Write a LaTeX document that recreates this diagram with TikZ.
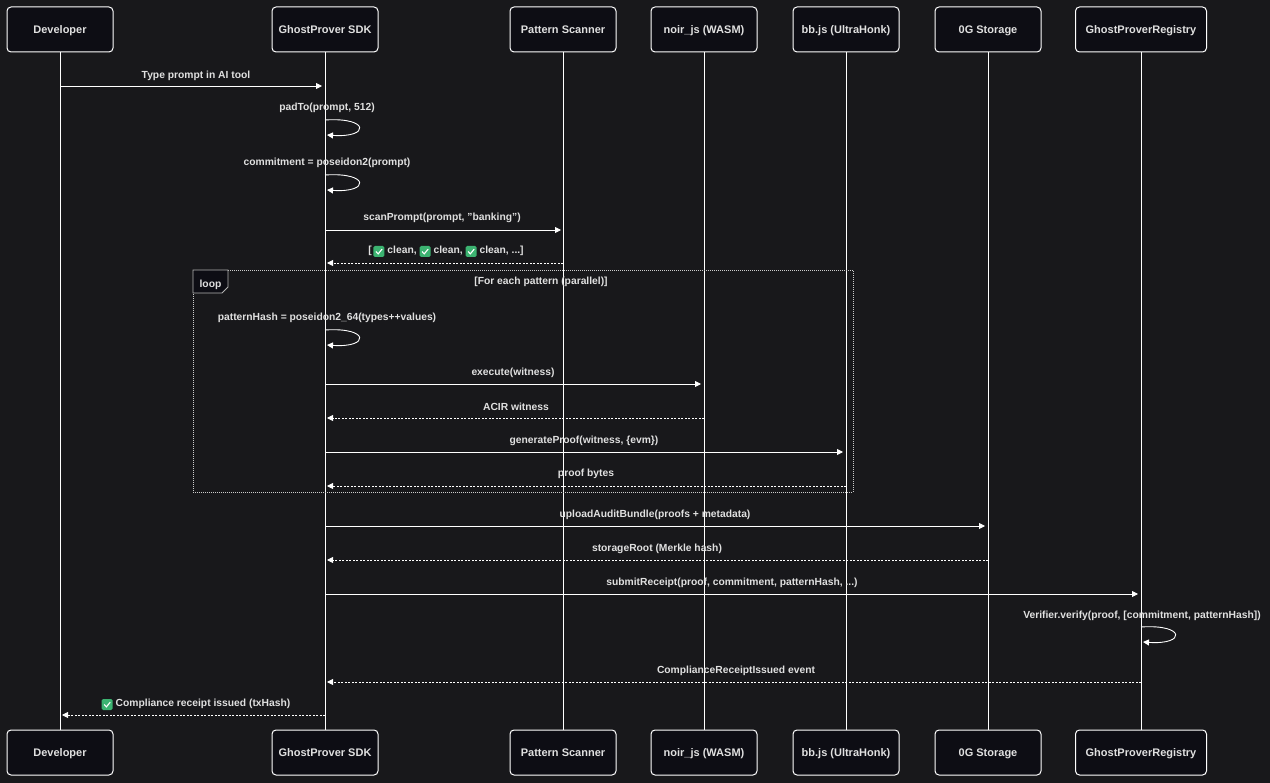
\documentclass[tikz,border=0pt]{standalone}
\usepackage{fontspec}
\setmainfont{Liberation Sans}
\usetikzlibrary{arrows.meta}
\definecolor{bg}{HTML}{18181B}
\definecolor{boxf}{HTML}{0D0D14}
\definecolor{txt}{HTML}{E0E0E0}
\definecolor{chkg}{HTML}{3CB371}
\newcommand{\chk}{\tikz[baseline=-1pt,x=1pt,y=1pt]{\fill[chkg,rounded corners=1.5pt](0,-4.5) rectangle (11,6.5);\draw[white,line width=1.1pt](2.5,1)--(4.7,-1.4)--(8.6,3.4);}\hspace{3pt}}
\tikzset{
 actor/.style={draw=white,line width=1pt,fill=boxf,rounded corners=4pt,minimum height=45pt,text=txt,font=\bfseries\fontsize{11}{13}\selectfont,inner sep=0,text height=8pt,text depth=0pt},
 lbl/.style={text=txt,font=\bfseries\fontsize{10.3}{12}\selectfont,inner sep=1pt,yshift=-1.5pt},
 msg/.style={draw=white,line width=0.9pt,-{Triangle[length=6pt,width=6pt]}},
 ret/.style={draw=white,line width=0.9pt,dash pattern=on 2pt off 1.5pt,-{Triangle[length=6pt,width=6pt]}},
 life/.style={draw=white,line width=0.9pt}
}
\begin{document}
\begin{tikzpicture}[x=1pt,y=-1pt]
\fill[bg] (0,0) rectangle (1270,783);
\useasboundingbox (0,0) rectangle (1270,783);
% lifelines
\foreach \n/\x in {a/60,b/325,c/563,d/704,e/846,f/988,g/1141}{
 \coordinate (\n t) at (\x,52); \coordinate (\n b) at (\x,730);
 \draw[life] (\n t)--(\n b);}
% actors
\foreach \n/\x/\w/\t in {a/60/106/Developer,b/325/106/GhostProver SDK,c/563/106/Pattern Scanner,d/704/106/noir\_js (WASM),e/846/106/bb.js (UltraHonk),f/988/106/0G Storage,g/1141/131/GhostProverRegistry}{
 \node[actor,minimum width=\w pt] (\n1) at (\x,29.5) {\t};
 \node[actor,minimum width=\w pt] (\n2) at (\x,752.5) {\t};}
% loop frame
\draw[white!80!black,line width=0.8pt,dash pattern=on 1pt off 1pt] (193,270) rectangle (853,492);
\draw[white!70!black,fill=boxf,line width=0.8pt] (193,270)--(228,270)--(228,287)--(222,293)--(193,293)--cycle;
\node[lbl] (lp) at (210.5,283) {loop};
\node[lbl] (gd) at (541,280) {[For each pattern (parallel)]};
\newcommand{\at}[3]{\coordinate (#1) at (#2,#3);}
\at{m1s}{60}{86}\at{m1e}{322}{86}
\node[lbl] (l1) at (196,74) {Type prompt in AI tool};
% self loops
\foreach \y/\t/\lx in {120/{padTo(prompt, 512)}/327,175/{commitment = poseidon2(prompt)}/327,330/{patternHash = poseidon2\_64(types++values)}/327}{
 \node[lbl] at (\lx,\y-14) {\t};
 \coordinate (sa) at (325,\y); \coordinate (sb) at (327,\y+15);
 \draw[msg] (sa) .. controls (370,\y-3) and (370,\y+18) .. (sb);}
\draw[msg] (m1s)--(m1e);
\at{m2s}{325}{230}\at{m2e}{561}{230}\draw[msg](m2s)--(m2e);
\node[lbl] at (442,216) {scanPrompt(prompt, "banking")};
\at{m3s}{563}{263}\at{m3e}{327}{263}\draw[ret](m3s)--(m3e);
\node[lbl] at (446,250) {[\,\chk clean, \chk clean, \chk clean, ...]};
\at{m4s}{325}{384}\at{m4e}{701}{384}\draw[msg](m4s)--(m4e);
\node[lbl] at (513,371) {execute(witness)};
\at{m5s}{704}{418}\at{m5e}{327}{418}\draw[ret](m5s)--(m5e);
\node[lbl] at (516,405) {ACIR witness};
\at{m6s}{325}{452}\at{m6e}{843}{452}\draw[msg](m6s)--(m6e);
\node[lbl] at (584,439) {generateProof(witness, \{evm\})};
\at{m7s}{846}{486}\at{m7e}{327}{486}\draw[ret](m7s)--(m7e);
\node[lbl] at (586,472) {proof bytes};
\at{m8s}{325}{526}\at{m8e}{985}{526}\draw[msg](m8s)--(m8e);
\node[lbl] at (655,513) {uploadAuditBundle(proofs + metadata)};
\at{m9s}{988}{560}\at{m9e}{327}{560}\draw[ret](m9s)--(m9e);
\node[lbl] at (657,547) {storageRoot (Merkle hash)};
\at{m10s}{325}{594}\at{m10e}{1138}{594}\draw[msg](m10s)--(m10e);
\node[lbl] at (732,581) {submitReceipt(proof, commitment, patternHash, ...)};
\node[lbl] at (1142,614) {Verifier.verify(proof, [commitment, patternHash])};
\coordinate (va) at (1141,627); \coordinate (vb) at (1143,642);
\draw[msg] (va) .. controls (1186,624) and (1186,645) .. (vb);
\at{m11s}{1141}{682}\at{m11e}{327}{682}\draw[ret](m11s)--(m11e);
\node[lbl] at (736,669) {ComplianceReceiptIssued event};
\at{m12s}{325}{715}\at{m12e}{62}{715}\draw[ret](m12s)--(m12e);
\node[lbl] at (196,703) {\chk Compliance receipt issued (txHash)};
\end{tikzpicture}
\end{document}
